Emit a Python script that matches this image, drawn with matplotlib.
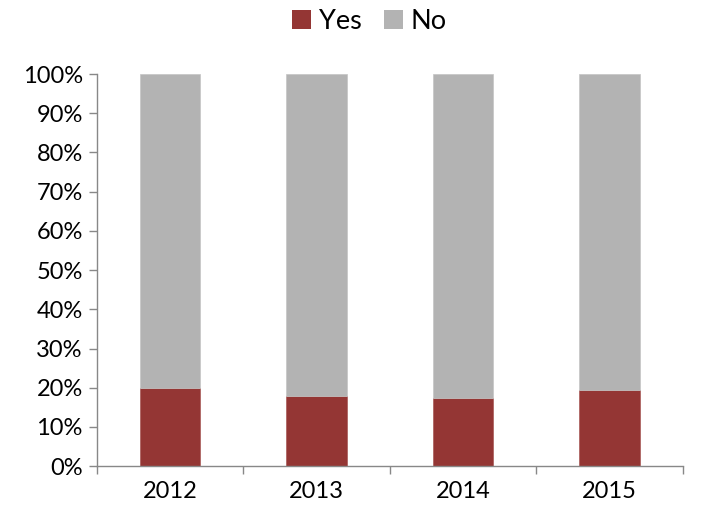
import matplotlib
matplotlib.use("Agg")
import matplotlib.pyplot as plt
from matplotlib.ticker import PercentFormatter, FixedLocator, NullFormatter
from matplotlib.patches import Patch

years = ["2012", "2013", "2014", "2015"]
yes = [20.0, 18.0, 17.5, 19.5]
no = [100 - v for v in yes]

plt.rcParams['font.family'] = ['Lato', 'DejaVu Sans']

fig = plt.figure(figsize=(7.01, 5.18), dpi=100)
ax = fig.add_axes([0.138, 0.100, 0.836, 0.757])

x = list(range(len(years)))
ax.bar(x, yes, width=0.41, color="#943634", edgecolor="#a85a58", linewidth=0.5, label="Yes")
ax.bar(x, no, width=0.41, bottom=yes, color="#B3B3B3", edgecolor="#c4c4c4", linewidth=0.5, label="No")

ax.set_xlim(-0.5, len(years) - 0.5)
ax.set_ylim(0, 100)
ax.set_yticks(range(0, 101, 10))
ax.yaxis.set_major_formatter(PercentFormatter(decimals=0))
ax.set_xticks(x)
ax.set_xticklabels(years)
ax.tick_params(axis='x', length=0, pad=11, labelsize=17)
ax.xaxis.set_minor_locator(FixedLocator([i + 0.5 for i in range(-1, len(years))]))
ax.xaxis.set_minor_formatter(NullFormatter())
ax.tick_params(axis='x', which='minor', length=6, color="#888888", width=1)
ax.tick_params(axis='y', length=6, color="#888888", width=1, labelsize=17, pad=4)

for s in ["top", "right"]:
    ax.spines[s].set_visible(False)
for s in ["left", "bottom"]:
    ax.spines[s].set_color("#888888")
    ax.spines[s].set_linewidth(1)

handles = [Patch(facecolor="#943634", label="Yes"), Patch(facecolor="#B3B3B3", label="No")]
fig.legend(handles=handles, loc="upper center", bbox_to_anchor=(0.527, 1.03), ncol=2, frameon=False,
           fontsize=19.5, handlelength=0.7, handleheight=0.7, handletextpad=0.3, columnspacing=0.8)

fig.savefig("out.png", dpi=100)
